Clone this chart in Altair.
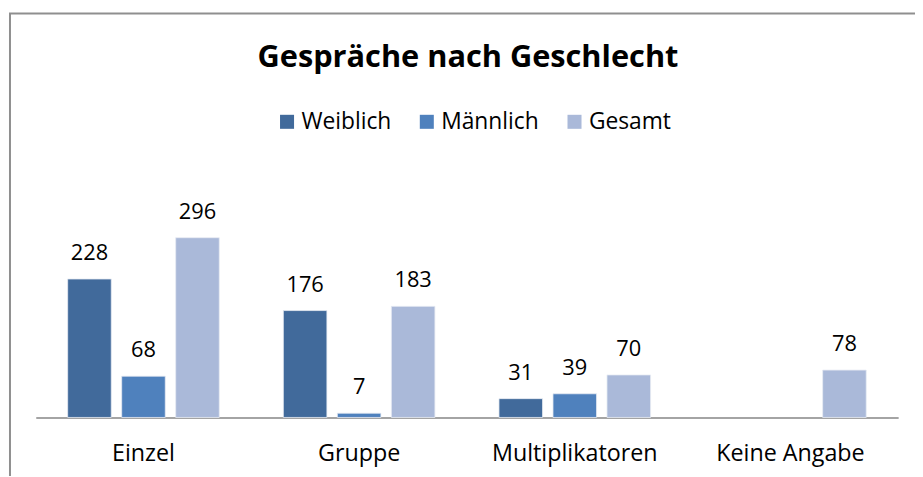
import altair as alt
import pandas as pd

categories = ["Einzel", "Gruppe", "Multiplikatoren", "Keine Angabe"]
series = ["Weiblich", "Männlich", "Gesamt"]
weiblich = [228, 176, 31, None]
maennlich = [68, 7, 39, None]
gesamt = [296, 183, 70, 78]
colors = ["#416A9B", "#4F81BD", "#AAB9D9"]
title_text = "Gespräche nach Geschlecht"

rows = []
for s, vals in zip(series, [weiblich, maennlich, gesamt]):
    for c, v in zip(categories, vals):
        if v is not None:
            rows.append({"Kategorie": c, "Geschlecht": s, "Anzahl": v})
df = pd.DataFrame(rows)

FONT = "Open Sans"
W, H = 870, 214

x = alt.X(
    "Kategorie:N", sort=categories,
    scale=alt.Scale(domain=categories, paddingInner=0.297, paddingOuter=0.148),
    axis=alt.Axis(title=None, labelAngle=0, ticks=False, domainColor="#868686",
                  domainWidth=1.5, labelFontSize=23.5, labelFont=FONT,
                  labelColor="#000000", labelPadding=24, grid=False),
)
xo = alt.XOffset("Geschlecht:N", sort=series,
                 scale=alt.Scale(domain=series, paddingInner=0.193, paddingOuter=0))
y = alt.Y("Anzahl:Q", scale=alt.Scale(domain=[0, 349.3], nice=False, zero=True), axis=None)
color = alt.Color(
    "Geschlecht:N", sort=series,
    scale=alt.Scale(domain=series, range=colors),
    legend=alt.Legend(title=None, orient="none", legendX=242, legendY=-96,
                      direction="horizontal", symbolType="square", symbolSize=200,
                      symbolStrokeWidth=0, labelFontSize=23, labelFont=FONT,
                      labelColor="#000000", labelOffset=3, columnPadding=24, padding=0),
)

bars = alt.Chart(df).mark_bar(stroke="#E8ECF4", strokeWidth=0.8).encode(
    x=x, xOffset=xo, y=y, color=color)
labels = alt.Chart(df).mark_text(
    baseline="alphabetic", dy=-19, fontSize=22, font=FONT, color="#000000"
).encode(x=x, xOffset=xo, y=y, text="Anzahl:Q")

border = alt.Chart(pd.DataFrame({"k": [0]})).mark_rect(
    fillOpacity=0, stroke="#8F8F8F", strokeWidth=2
).encode(x=alt.value(-26), x2=alt.value(920), y=alt.value(-193.5), y2=alt.value(H + 120))

title_mark = alt.Chart(pd.DataFrame({"t": [title_text]})).mark_text(
    font=FONT, fontSize=31, fontWeight="bold", align="center",
    baseline="alphabetic", color="#000000"
).encode(x=alt.value(436), y=alt.value(-140), text="t:N")

chart = alt.layer(border, bars, labels, title_mark).properties(
    width=W, height=H,
    padding={"left": 28, "top": 197, "right": 17, "bottom": 57},
    autosize=alt.AutoSizeParams(type="none"),
).configure_view(strokeWidth=0)

chart.save("out.html", embed_options={"renderer": "svg", "actions": False})
